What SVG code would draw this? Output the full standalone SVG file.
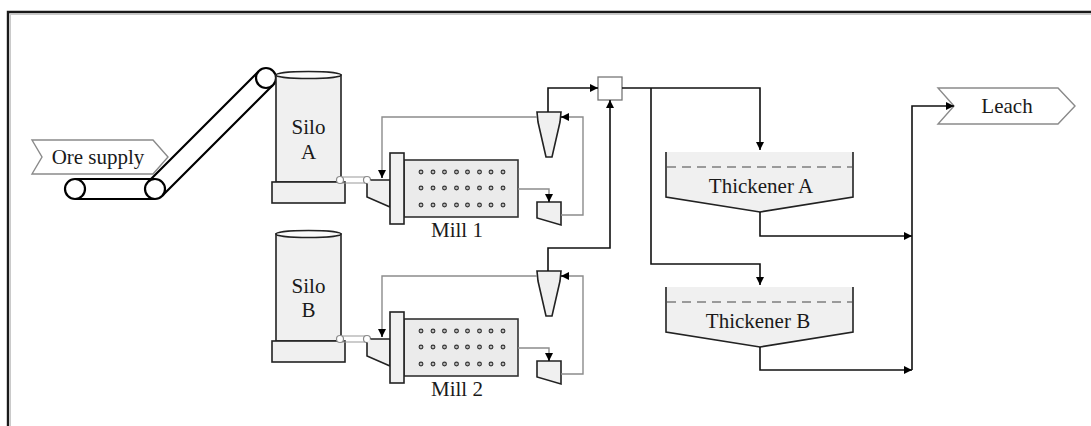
<svg xmlns="http://www.w3.org/2000/svg" width="1091" height="426" viewBox="0 0 1091 426">
  <style>
    .lbl { font-family: "Liberation Serif", "Times New Roman", serif; font-size: 21px; fill: #1a1a1a; text-anchor: middle; }
    .edge { fill: #f0f0f0; stroke: #222; stroke-width: 1.6; }
    .chev { fill: #fff; stroke: #8a8a8a; stroke-width: 1.4; }
    .flow { fill: none; stroke: #111; stroke-width: 1.6; }
    .recirc { fill: none; stroke: #8c8c8c; stroke-width: 1.4; }
    .belt { fill: none; stroke: #000; stroke-width: 2.2; }
    .roller { fill: #fff; stroke: #000; stroke-width: 2.2; }
    .dot { fill: #bbb; stroke: #333; stroke-width: 1.1; }
    .pipe { fill: none; stroke: #9a9a9a; stroke-width: 1.2; }
    .joint { fill: #fff; stroke: #8a8a8a; stroke-width: 1.2; }
    .level { fill: none; stroke: #9a9a9a; stroke-width: 1.8; stroke-dasharray: 9 6; }
  </style>
  <defs>
    <marker id="ah" viewBox="0 0 8 8" refX="8" refY="4" markerWidth="8" markerHeight="8" markerUnits="userSpaceOnUse" orient="auto">
      <path d="M0,0 L8,4 L0,8 Z" fill="#000"/>
    </marker>

    <!-- mill line: silo, pipe, feed chute, mill, sump pump, cyclone -->
    <g id="millLine">
      <!-- silo -->
      <rect x="276" y="75" width="65" height="107" class="edge"/>
      <ellipse cx="308.5" cy="75" rx="32.5" ry="3.5" fill="#fafafa" stroke="#222" stroke-width="1.6"/>
      <rect x="272" y="182" width="73" height="21" class="edge"/>
      <!-- transfer pipe -->
      <path d="M340,177 H367 M340,183 H367" class="pipe"/>
      <circle cx="340" cy="180" r="3.5" class="joint"/>
      <circle cx="367" cy="180" r="3.5" class="joint"/>
      <!-- feed chute -->
      <path d="M370.5,180 H390 V207 L367,197 V183.5" class="edge"/>
      <!-- mill -->
      <rect x="404" y="160" width="114" height="57" fill="#ebebeb" stroke="#333" stroke-width="1.6"/>
      <rect x="390" y="153" width="14" height="71" class="edge"/>
      <g class="dot">
        <circle cx="421" cy="172" r="1.9"/><circle cx="433" cy="172" r="1.9"/><circle cx="444.5" cy="172" r="1.9"/><circle cx="456.5" cy="172" r="1.9"/><circle cx="467.5" cy="172" r="1.9"/><circle cx="479.5" cy="172" r="1.9"/><circle cx="491" cy="172" r="1.9"/><circle cx="503" cy="172" r="1.9"/>
        <circle cx="421" cy="188" r="1.9"/><circle cx="433" cy="188" r="1.9"/><circle cx="444.5" cy="188" r="1.9"/><circle cx="456.5" cy="188" r="1.9"/><circle cx="467.5" cy="188" r="1.9"/><circle cx="479.5" cy="188" r="1.9"/><circle cx="491" cy="188" r="1.9"/><circle cx="503" cy="188" r="1.9"/>
        <circle cx="421" cy="205" r="1.9"/><circle cx="433" cy="205" r="1.9"/><circle cx="444.5" cy="205" r="1.9"/><circle cx="456.5" cy="205" r="1.9"/><circle cx="467.5" cy="205" r="1.9"/><circle cx="479.5" cy="205" r="1.9"/><circle cx="491" cy="205" r="1.9"/><circle cx="503" cy="205" r="1.9"/>
      </g>
      <!-- sump pump -->
      <path d="M537,202 H561 V225 L537,218 Z" class="edge"/>
      <!-- cyclone -->
      <path d="M537,112 H561 L560,122 L552,157 H546 L538,122 Z" class="edge"/>
      <!-- local piping -->
      <path d="M518,189 H549 V200" class="recirc"/>
      <path d="M549,195 V202" class="flow" marker-end="url(#ah)"/>
      <path d="M561,215 H583 V117 H568" class="recirc"/>
      <path d="M568,117 H561" class="flow" marker-end="url(#ah)"/>
      <path d="M537,117 H382 V172" class="recirc"/>
      <path d="M382,170 V178" class="flow" marker-end="url(#ah)"/>
    </g>
  </defs>

  <!-- sheet border -->
  <path d="M8,426 V12 H1091" fill="none" stroke="#1a1a1a" stroke-width="2.4"/>
  <path d="M10.3,426 V14.3 H1091" fill="none" stroke="#bdbdbd" stroke-width="1"/>

  <g id="ore-supply">
    <path d="M32,140 H153 L168,157 L153,174 H32 L42,157 Z" class="chev"/>
    <text x="98" y="164" class="lbl">Ore supply</text>
  </g>

  <g id="conveyor">
    <path d="M75,179 H155 M75,199 H155 M148,182 L259,71 M162,196 L273,85" class="belt"/>
    <circle cx="75" cy="189" r="10" class="roller"/>
    <circle cx="155" cy="189" r="10" class="roller"/>
    <circle cx="266" cy="78" r="10" class="roller"/>
  </g>

  <g id="mill-line-1">
    <use href="#millLine"/>
    <text x="308.5" y="134" class="lbl">Silo</text>
    <text x="308.5" y="159" class="lbl">A</text>
    <text x="457" y="237" class="lbl">Mill 1</text>
  </g>

  <g id="mill-line-2">
    <use href="#millLine" transform="translate(0,159)"/>
    <text x="308.5" y="293" class="lbl">Silo</text>
    <text x="308.5" y="317" class="lbl">B</text>
    <text x="457" y="396" class="lbl">Mill 2</text>
  </g>

  <g id="junction-box">
    <rect x="598" y="77" width="24" height="23" fill="#fff" stroke="#777" stroke-width="1.3"/>
  </g>

  <g id="thickener-a">
    <path d="M666,152 V197 L760,212 L853,197 V152 Z" fill="#f0f0f0" stroke="none"/>
    <path d="M666,152 V197 L760,212 L853,197 V152" fill="none" stroke="#222" stroke-width="1.6"/>
    <path d="M667,167 H852" class="level"/>
    <text x="761" y="193" class="lbl">Thickener A</text>
  </g>

  <g id="thickener-b">
    <path d="M666,287 V332 L760,347 L853,332 V287 Z" fill="#f0f0f0" stroke="none"/>
    <path d="M666,287 V332 L760,347 L853,332 V287" fill="none" stroke="#222" stroke-width="1.6"/>
    <path d="M667,302 H852" class="level"/>
    <text x="758" y="328" class="lbl">Thickener B</text>
  </g>

  <g id="leach">
    <path d="M938,88 H1058 L1075,106 L1058,124 H938 L954,106 Z" class="chev"/>
    <text x="1007" y="113" class="lbl">Leach</text>
  </g>

  <g id="connectors">
    <!-- cyclone overflows to junction box -->
    <path d="M548,112 V88 H598" class="flow" marker-end="url(#ah)"/>
    <path d="M548,271 V248 H610 V100" class="flow" marker-end="url(#ah)"/>
    <!-- box to thickeners -->
    <path d="M622,88 H760 V150" class="flow" marker-end="url(#ah)"/>
    <path d="M651,88 V264 H760 V285" class="flow" marker-end="url(#ah)"/>
    <!-- thickener underflows to leach -->
    <path d="M760,212 V236 H912" class="flow" marker-end="url(#ah)"/>
    <path d="M760,347 V370 H912" class="flow" marker-end="url(#ah)"/>
    <path d="M912,370 V106 H954" class="flow" marker-end="url(#ah)"/>
  </g>
</svg>
